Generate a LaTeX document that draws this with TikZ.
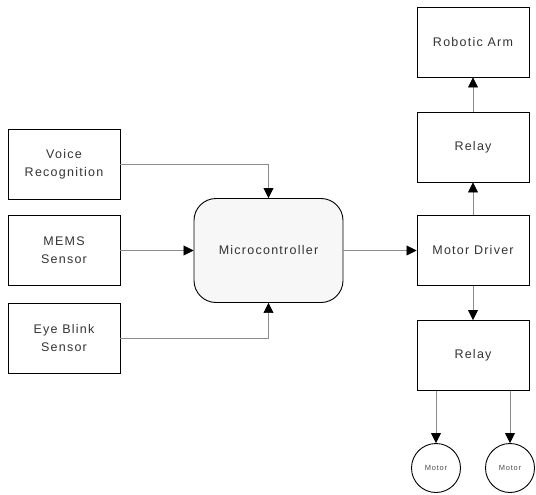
\documentclass[tikz,border=0pt]{standalone}
\usepackage{fontspec}
\setmainfont[LetterSpace=10]{Liberation Sans}
\usetikzlibrary{positioning,arrows.meta}

\tikzset{
  block/.style={draw=black,line width=0.9pt,minimum width=112pt,minimum height=70pt,
    align=center,inner sep=1pt,font=\fontsize{12.5}{18}\selectfont,text=black!80},
  mcu/.style={block,rounded corners=22pt,fill=black!3,minimum width=149pt,minimum height=104pt},
  motor/.style={draw=black,line width=0.9pt,circle,minimum size=49pt,inner sep=0pt,
    font=\fontsize{7.5}{8}\selectfont,text=black!70},
  link/.style={draw=black!45,line width=0.7pt,-{Triangle[length=10pt,width=10pt,color=black]}}
}

\begin{document}
\begin{tikzpicture}[x=1pt,y=1pt,yscale=-1]
\useasboundingbox (0,0) rectangle (536,495);

% inputs
\node[block] (voice) at (64,164) {Voice\\Recognition};
\node[block] (mems) at (64,250.5) {MEMS\\Sensor};
\node[block] (blink) at (64,338) {Eye Blink\\Sensor};

% controller
\node[mcu] (mcu) at (268.5,250.5) {Microcontroller};

% output side
\node[block] (arm) at (473,42) {Robotic Arm};
\node[block] (relayup) at (473,147) {Relay};
\node[block] (driver) at (473,250.5) {Motor Driver};
\node[block] (relaydown) at (473,355.5) {Relay};
\node[motor] (motora) at (436,468) {Motor};
\node[motor] (motorb) at (510,468) {Motor};

% connectors
\draw[link] (voice.east) -| (mcu.north);
\draw[link] (mems) -- (mcu);
\draw[link] (blink.east) -| (mcu.south);
\draw[link] (mcu) -- (driver);
\draw[link] (driver) -- (relayup);
\draw[link] (relayup) -- (arm);
\draw[link] (driver) -- (relaydown);
\draw[link] (motora.north |- relaydown.south) -- (motora);
\draw[link] (motorb.north |- relaydown.south) -- (motorb);
\end{tikzpicture}
\end{document}
